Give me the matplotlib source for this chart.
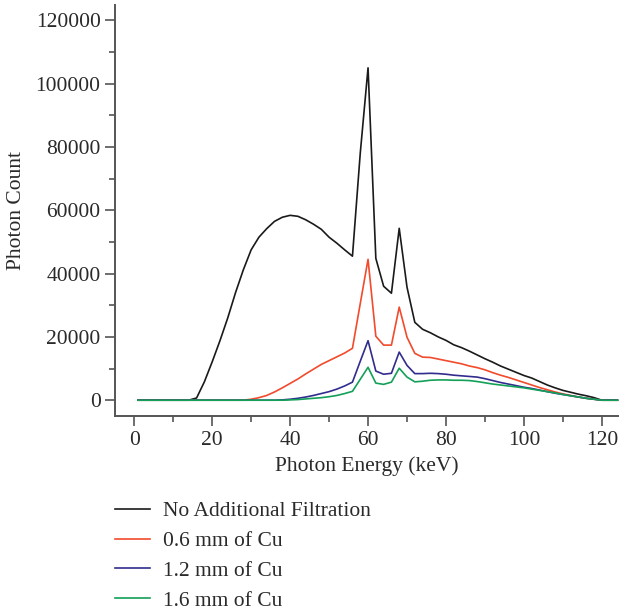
import matplotlib.pyplot as plt
from matplotlib.ticker import MultipleLocator

# photon energy grid (keV)
energy = [1, 2, 4, 6, 8, 10, 12, 14, 16, 18, 20, 22, 24, 26, 28, 30, 32, 34, 36, 38,
          40, 42, 44, 46, 48, 50, 52, 54, 56, 58, 60, 62, 64, 66, 68, 70, 72, 74, 76, 78,
          80, 82, 84, 86, 88, 90, 92, 94, 96, 98, 100, 102, 104, 106, 108, 110, 112, 114, 116, 118,
          120, 122, 124]

no_filter = [0, 0, 0, 0, 0, 0, 0, 0, 700, 5800, 12100, 18800, 26000, 34000, 41200, 47500, 51500, 54200, 56500, 57800,
             58400, 58100, 57000, 55600, 54000, 51500, 49600, 47500, 45500, 78000, 105000, 44800, 36000, 33800, 54300, 35700, 24600, 22400, 21300, 20000,
             18900, 17500, 16600, 15500, 14300, 13100, 12000, 10800, 9800, 8800, 7800, 7000, 5900, 4800, 3900, 3100, 2500, 1900, 1400, 800,
             0, 0, 0]

cu_06 = [0, 0, 0, 0, 0, 0, 0, 0, 0, 0, 0, 0, 0, 0, 0, 300, 800, 1500, 2600, 3900,
         5300, 6700, 8300, 9800, 11300, 12500, 13700, 14900, 16400, 30500, 44500, 20200, 17400, 17400, 29400, 19900, 14800, 13600, 13500, 13000,
         12500, 12000, 11500, 10800, 10300, 9600, 8700, 7900, 7200, 6400, 5600, 4800, 4000, 3300, 2600, 2000, 1500, 1000, 600, 300,
         0, 0, 0]

cu_12 = [0, 0, 0, 0, 0, 0, 0, 0, 0, 0, 0, 0, 0, 0, 0, 0, 0, 0, 0, 100,
         300, 600, 1000, 1500, 2100, 2700, 3500, 4500, 5700, 12300, 18800, 9200, 8200, 8500, 15200, 11000, 8400, 8400, 8500, 8400,
         8200, 7900, 7700, 7500, 7300, 6800, 6200, 5600, 5100, 4600, 4100, 3700, 3200, 2700, 2200, 1800, 1400, 1000, 600, 300,
         0, 0, 0]

cu_16 = [0, 0, 0, 0, 0, 0, 0, 0, 0, 0, 0, 0, 0, 0, 0, 0, 0, 0, 0, 0,
         100, 200, 400, 600, 800, 1100, 1500, 2100, 2800, 6600, 10400, 5400, 5000, 5700, 10100, 7300, 5800, 6000, 6300, 6400,
         6400, 6300, 6300, 6200, 5900, 5500, 5100, 4800, 4500, 4200, 3900, 3500, 3100, 2700, 2300, 1800, 1400, 1000, 600, 300,
         0, 0, 0]

labels = ["No Additional Filtration", "0.6 mm of Cu", "1.2 mm of Cu", "1.6 mm of Cu"]
colors = ["#1a1a1a", "#f24a2c", "#312c8e", "#13a058"]

plt.rcParams.update(
    {
        "font.family": "serif",
        "font.serif": ["Liberation Serif", "DejaVu Serif"],
        "font.size": 15.5,
        "text.color": "#2a2a2a",
        "axes.labelcolor": "#2a2a2a",
        "xtick.color": "#555555",
        "ytick.color": "#555555",
        "xtick.labelcolor": "#2a2a2a",
        "ytick.labelcolor": "#2a2a2a",
    }
)

fig = plt.figure(figsize=(6.19, 6.10), dpi=100)
ax = fig.add_axes([0.186, 0.318, 0.814, 0.673])

for series, lab, col in zip([no_filter, cu_06, cu_12, cu_16], labels, colors):
    ax.plot(energy, series, color=col, lw=1.2, label=lab)

ax.set_xlim(-4.9, 124.4)
ax.set_ylim(-5000, 124700)
ax.xaxis.set_major_locator(MultipleLocator(20))
ax.xaxis.set_minor_locator(MultipleLocator(10))
ax.yaxis.set_major_locator(MultipleLocator(20000))
ax.yaxis.set_minor_locator(MultipleLocator(10000))
ax.tick_params(which="major", length=7, width=1.2, direction="out")
ax.tick_params(which="minor", length=4, width=1.2, direction="out")
for side in ["top", "right"]:
    ax.spines[side].set_visible(False)
for side in ["left", "bottom"]:
    ax.spines[side].set_color("#555555")
    ax.spines[side].set_linewidth(1.4)

ax.set_xlabel("Photon Energy (keV)", labelpad=5)
ax.set_ylabel("Photon Count", labelpad=7)

fig.legend(
    loc="upper left",
    bbox_to_anchor=(0.186, 0.178),
    frameon=False,
    handlelength=1.63,
    handletextpad=0.6,
    labelspacing=0.45,
    borderaxespad=0,
    borderpad=0,
)

plt.savefig("out.png", dpi=100)
